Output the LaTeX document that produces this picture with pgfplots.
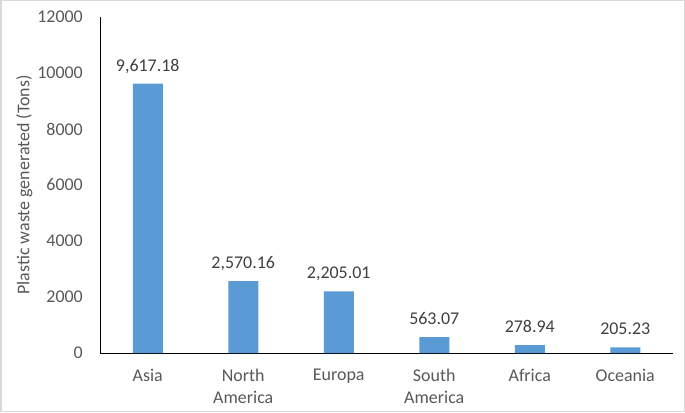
\documentclass[border=0pt]{standalone}
\usepackage{pgfplots}
\pgfplotsset{compat=1.18}
\usepackage{fontspec}
\setmainfont{Carlito}
\definecolor{barBlue}{RGB}{91,155,213}
\definecolor{txtGray}{RGB}{64,64,64}
\definecolor{axGray}{RGB}{89,89,89}
\definecolor{frameGray}{RGB}{217,217,217}

\begin{document}
\begin{tikzpicture}[x=1bp, y=1bp]
  \useasboundingbox (0,0) rectangle (685,412);
  \fill[white] (0,0) rectangle (685,412);
  \draw[frameGray, line width=1.5bp] (0.75,0.75) rectangle (684.25,411.25);
  \begin{axis}[
      at={(100bp,59bp)}, anchor=south west,
      scale only axis,
      width=573bp, height=336bp,
      ybar, bar width=30bp,
      xmin=-0.5, xmax=5.5,
      ymin=0, ymax=12000,
      ytick={0,2000,4000,6000,8000,10000,12000},
      scaled y ticks=false,
      xtick=data,
      xticklabels={Asia, North\\America, Europa, South\\America, Africa, Oceania},
      axis x line*=bottom, axis y line*=left,
      axis line style={black, line width=1bp},
      major tick length=0,
      /pgf/number format/1000 sep={},
      /pgf/number format/assume math mode=true,
      font=\fontsize{18}{22}\selectfont,
      ticklabel style={font=\fontsize{18}{22}\selectfont, text=axGray},
      yticklabel style={anchor=east, inner sep=0pt, xshift=-17bp},
      xticklabel style={anchor=north, inner sep=0pt, yshift=-15.5bp, align=center},
      ylabel={Plastic waste generated (Tons)},
      ylabel style={at={(axis description cs:-0.132,0.5)}, anchor=center, text=axGray, font=\fontsize{18}{22}\selectfont},
      nodes near coords={\pgfmathprintnumber[fixed, fixed zerofill, precision=2, 1000 sep={,}]{\pgfplotspointmeta}},
      every node near coord/.append style={anchor=base, inner sep=0pt, yshift=12.5bp, text=txtGray, font=\fontsize{18}{22}\selectfont},
      clip=false
    ]
    \addplot[fill=barBlue, draw=none] coordinates {
      (0,9617.18) (1,2570.16) (2,2205.01) (3,563.07) (4,278.94) (5,205.23)};
  \end{axis}
\end{tikzpicture}
\end{document}
